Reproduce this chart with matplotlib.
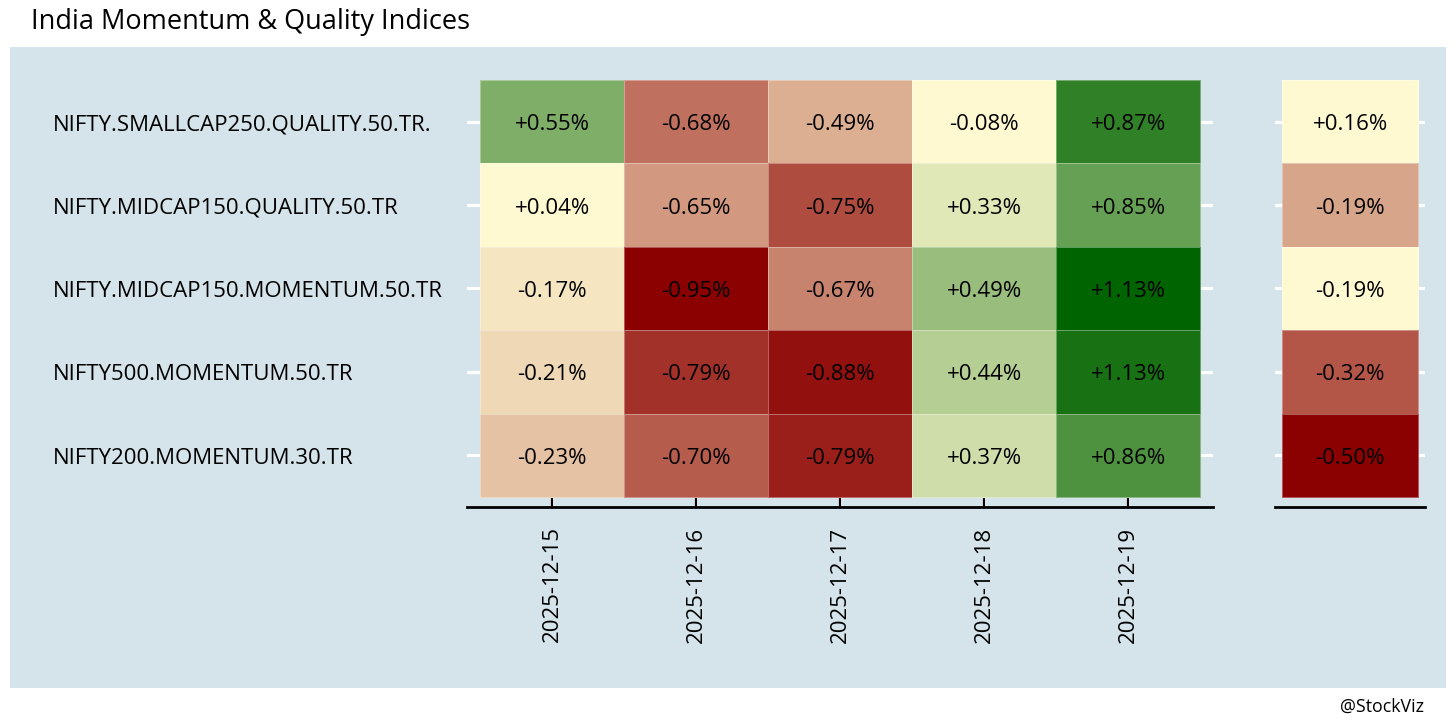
import matplotlib
matplotlib.use('Agg')
import matplotlib.pyplot as plt
import numpy as np
from matplotlib.colors import LinearSegmentedColormap, Normalize
from matplotlib.patches import Rectangle
from matplotlib.transforms import blended_transform_factory

plt.rcParams['font.family'] = ['Open Sans', 'DejaVu Sans']

indices = ["NIFTY.SMALLCAP250.QUALITY.50.TR.",
           "NIFTY.MIDCAP150.QUALITY.50.TR",
           "NIFTY.MIDCAP150.MOMENTUM.50.TR",
           "NIFTY500.MOMENTUM.50.TR",
           "NIFTY200.MOMENTUM.30.TR"]
dates = ["2025-12-15", "2025-12-16", "2025-12-17", "2025-12-18", "2025-12-19"]
returns = [[0.55, -0.68, -0.49, -0.08, 0.87],
           [0.04, -0.65, -0.75, 0.33, 0.85],
           [-0.17, -0.95, -0.67, 0.49, 1.13],
           [-0.21, -0.79, -0.88, 0.44, 1.13],
           [-0.23, -0.70, -0.79, 0.37, 0.86]]
# colour intensity read from the tile fills (-1 = dark red, 0 = light yellow, 1 = dark green)
color_scores = [[0.50, -0.55, -0.30, 0.00, 0.81],
                [0.00, -0.39, -0.69, 0.12, 0.60],
                [-0.08, -1.00, -0.47, 0.40, 1.00],
                [-0.14, -0.80, -0.93, 0.29, 0.90],
                [-0.22, -0.63, -0.87, 0.19, 0.69]]
summary = [0.16, -0.19, -0.19, -0.32, -0.50]
summary_scores = [0.00, -0.34, 0.00, -0.65, -1.00]

title = "India Momentum & Quality Indices"
caption = "@StockViz"

W, H = 1456, 728
fig = plt.figure(figsize=(W / 100, H / 100), dpi=100)
fig.patch.set_facecolor('white')
bg = '#D5E3EA'
fig.patches.append(Rectangle((10 / W, 40 / H), 1436 / W, 641 / H,
                             transform=fig.transFigure, facecolor=bg,
                             edgecolor='none', zorder=-10))

cmap = LinearSegmentedColormap.from_list('rdyg', ['#8B0000', '#FFFAD2', '#006400'])
norm = Normalize(-1, 1)

def fx(px):
    return px / W

def fy(py):
    return 1 - py / H

ax = fig.add_axes([fx(467), fy(507), (1213 - 467) / W, (507 - 80) / H])
ax2 = fig.add_axes([fx(1275), fy(507), (1425 - 1275) / W, (507 - 80) / H])

nrow = len(indices)
ncol = len(dates)
row_px = (497 - 80) / nrow
exp_b = 10 / row_px
dy = 3 / row_px

for a in (ax, ax2):
    a.set_facecolor('none')
    for s in ('top', 'left', 'right'):
        a.spines[s].set_visible(False)
    a.spines['bottom'].set_color('black')
    a.spines['bottom'].set_linewidth(2.0)
    a.set_axisbelow(True)
    a.set_ylim(nrow - 0.5 + exp_b, -0.5)
    a.set_yticks(np.arange(nrow))
    a.tick_params(axis='y', length=0, labelleft=False)
    a.grid(axis='y', color='white', linewidth=2.3)

# main heatmap
ax.set_xlim(-0.5 - 13 / 144, ncol - 0.5 + 13 / 144)
xe = np.arange(ncol + 1) - 0.5
ye = np.arange(nrow + 1) - 0.5
ax.pcolormesh(xe, ye, np.array(color_scores), cmap=cmap, norm=norm,
              edgecolors=(1, 1, 1, 0.35), linewidth=0.6, zorder=2)
for i in range(nrow):
    for j in range(ncol):
        ax.text(j, i + dy, f"{returns[i][j]:+.2f}%", ha='center', va='center',
                fontsize=16, color='black', zorder=3)
ax.set_xticks(np.arange(ncol))
ax.set_xticklabels(dates, rotation=90, fontsize=16)
ax.tick_params(axis='x', direction='in', length=7.5, width=1.6, color='black',
               pad=14)
ax.grid(axis='x', color='white', linewidth=2.3)

trans = blended_transform_factory(fig.transFigure, ax.transData)
for i, name in enumerate(indices):
    ax.text(fx(53), i + dy, name, transform=trans, ha='left', va='center',
            fontsize=16, color='black')

# summary column
ax2.set_xlim(-0.5 - 7 / 136, 0.5 + 7 / 136)
ax2.pcolormesh([-0.5, 0.5], ye, np.array(summary_scores).reshape(-1, 1),
               cmap=cmap, norm=norm, edgecolors=(1, 1, 1, 0.35), linewidth=0.6,
               zorder=2)
for i in range(nrow):
    ax2.text(0, i + dy, f"{summary[i]:+.2f}%", ha='center', va='center',
             fontsize=16, color='black', zorder=3)
ax2.set_xticks([])

fig.text(fx(31), fy(29), title, ha='left', va='baseline', fontsize=19.5,
         color='black')
fig.text(fx(1424), fy(712), caption, ha='right', va='baseline', fontsize=12.8,
         color='black')

fig.savefig('out.png', dpi=100)
